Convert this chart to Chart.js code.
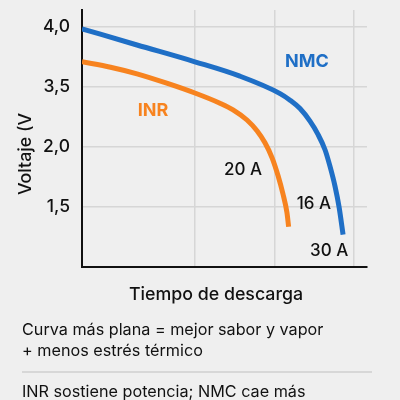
<!DOCTYPE html>
<html>
<head>
<meta charset="utf-8">
<script src="https://cdn.jsdelivr.net/npm/chart.js@4.4.1/dist/chart.umd.min.js"></script>
<style>
    html, body { margin: 0; padding: 0; background: #efefef; }
    #wrap { width: 400px; height: 400px; position: relative; }
</style>
</head>
<body>
<div id="wrap"><canvas id="dischargeChart"></canvas></div>
<script>
// tiempo (0-100) y voltaje en unidades de la escala del eje
const nmcTime = [0, 19.3, 39.6, 55.4, 69.5, 73, 76.5, 80, 82.8, 85.3, 87, 88.8, 90.2, 91.6];
const nmcVolt = [3.97, 3.70, 3.42, 3.18, 2.89, 2.78, 2.64, 2.43, 2.21, 1.95, 1.68, 1.34, 1.0, 0.54];
const inrTime = [0, 10, 19.3, 30, 39.6, 48.4, 53, 57.9, 61.4, 64.2, 66.7, 68.8, 70.5, 71.9, 72.5];
const inrVolt = [3.42, 3.33, 3.22, 3.06, 2.9, 2.73, 2.62, 2.45, 2.27, 2.07, 1.82, 1.52, 1.22, 0.91, 0.67];

const yTickValues = [0, 1, 2, 3, 4];
const yTickLabels = ["", "1,5", "2,0", "3,5", "4,0"];
const xGridValues = [39.6, 67.7, 95.4];

const curveNotes = [
    { text: "NMC", x: 78.9, y: 3.43, color: "#1f6fc6", weight: "700", size: 18 },
    { text: "INR", x: 24.9, y: 2.6, color: "#f7831f", weight: "700", size: 18 },
    { text: "20 A", x: 56.5, y: 1.62, color: "#111111", weight: "500", size: 17 },
    { text: "16 A", x: 81.4, y: 1.05, color: "#111111", weight: "500", size: 17 },
    { text: "30 A", x: 86.7, y: 0.27, color: "#111111", weight: "500", size: 17 }
];

const FONT = "Inter, 'Noto Sans', sans-serif";

function toPoints(xs, ys) {
    return xs.map((x, i) => ({ x: x, y: ys[i] }));
}

const extraText = {
    id: "extraText",
    afterDraw(chart) {
        const ctx = chart.ctx;
        const xs = chart.scales.x;
        const ys = chart.scales.y;
        ctx.save();
        ctx.textAlign = "center";
        ctx.textBaseline = "middle";
        curveNotes.forEach(n => {
            ctx.fillStyle = n.color;
            ctx.font = n.weight + " " + n.size + "px " + FONT;
            ctx.fillText(n.text, xs.getPixelForValue(n.x), ys.getPixelForValue(n.y));
        });

        // axis titles
        ctx.fillStyle = "#111111";
        ctx.font = "500 17.8px " + FONT;
        ctx.fillText("Tiempo de descarga", 216, 295);
        ctx.save();
        ctx.translate(26, 154);
        ctx.rotate(-Math.PI / 2);
        ctx.fillText("Voltaje (V", 0, 0);
        ctx.restore();

        // notes under the chart
        ctx.textAlign = "left";
        ctx.font = "400 16.2px " + FONT;
        ctx.fillText("Curva más plana = mejor sabor y vapor", 22, 330);
        ctx.fillText("+ menos estrés térmico", 22, 351);
        ctx.strokeStyle = "#cfcfcf";
        ctx.lineWidth = 1.5;
        ctx.beginPath();
        ctx.moveTo(22, 372);
        ctx.lineTo(372, 372);
        ctx.stroke();
        ctx.fillText("INR sostiene potencia; NMC cae más", 22, 392);
        ctx.restore();
    }
};

const ctx = document.getElementById("dischargeChart").getContext("2d");
const dischargeChart = new Chart(ctx, {
    type: "line",
    data: {
        datasets: [{
            label: "NMC",
            data: toPoints(nmcTime, nmcVolt),
            borderColor: "#1f6fc6",
            borderWidth: 5,
            pointRadius: 0,
            cubicInterpolationMode: "monotone",
            borderCapStyle: "butt"
        }, {
            label: "INR",
            data: toPoints(inrTime, inrVolt),
            borderColor: "#f7831f",
            borderWidth: 5,
            pointRadius: 0,
            cubicInterpolationMode: "monotone",
            borderCapStyle: "butt"
        }]
    },
    options: {
        responsive: true,
        maintainAspectRatio: false,
        animation: false,
        layout: { padding: { top: 10, right: 33, left: 0, bottom: 0 } },
        plugins: {
            legend: { display: false },
            tooltip: { enabled: false }
        },
        scales: {
            x: {
                type: "linear",
                min: 0,
                max: 100,
                afterBuildTicks: scale => { scale.ticks = xGridValues.map(v => ({ value: v })); },
                afterFit: scale => {
                    scale.height = 133;
                    scale.paddingLeft = 0;
                    scale.paddingRight = 0;
                },
                ticks: { display: false },
                grid: { color: "#d6d6d6", lineWidth: 1.5, drawTicks: false },
                border: { color: "#111111", width: 2 }
            },
            y: {
                type: "linear",
                min: 0,
                max: 4.283,
                afterBuildTicks: scale => { scale.ticks = yTickValues.map(v => ({ value: v })); },
                afterFit: scale => {
                    scale.width = 82;
                    scale.paddingTop = 0;
                    scale.paddingBottom = 0;
                },
                ticks: {
                    padding: 12,
                    color: "#111111",
                    font: { family: FONT, size: 17.5, weight: "500" },
                    callback: (value) => yTickLabels[yTickValues.indexOf(value)]
                },
                grid: {
                    color: c => (c.tick && c.tick.value === 0) ? "rgba(0,0,0,0)" : "#d6d6d6",
                    lineWidth: 1.5,
                    drawTicks: false
                },
                border: { color: "#111111", width: 2 }
            }
        }
    },
    plugins: [extraText]
});
</script>
</body>
</html>
